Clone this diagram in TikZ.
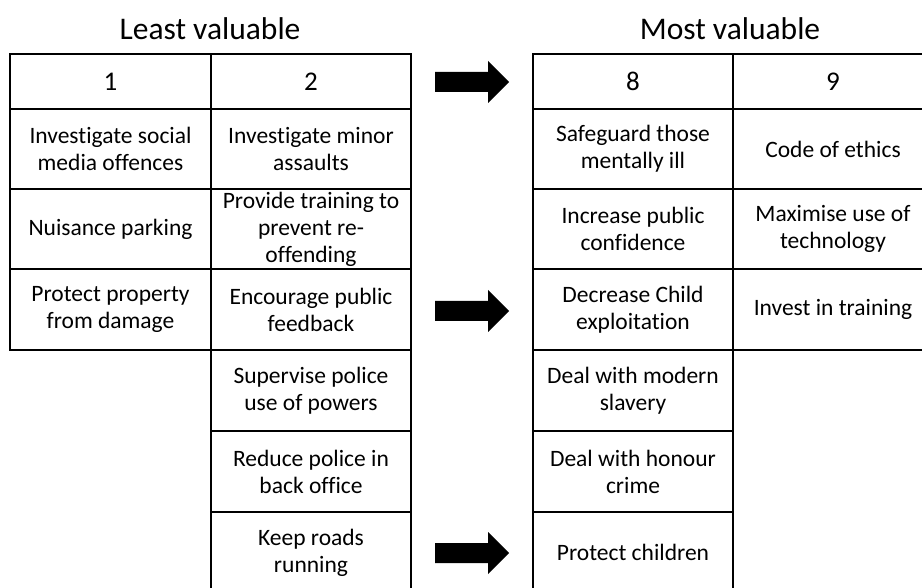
\documentclass[tikz,border=0pt]{standalone}
\usepackage{fontspec}
\setmainfont{Carlito}[Ligatures={NoCommon}]
\begin{document}
\begin{tikzpicture}[x=1pt,y=-1pt,
  cell/.style={draw=black, line width=2pt, minimum width=200.5pt,
    minimum height=80.5pt, inner sep=0pt, align=flush center, text width=198pt,
    font=\fontsize{23.5}{27}\selectfont},
  headcell/.style={cell, minimum height=55pt, font=\fontsize{27}{32}\selectfont},
  title/.style={font=\fontsize{31.5}{36}\selectfont, inner sep=0pt},
  bigarrow/.style={fill=black, draw=none}]
\useasboundingbox (0,0) rectangle (922,588);
\clip (0,0) rectangle (922,588);

% column titles
\node[title] (least) at (210,29) {Least valuable};
\node[title] (most) at (730,29) {Most valuable};

% least valuable: column 1
\node[headcell] (h1) at (110.5,81.5) {1};
\node[cell] (a1) at (110.5,149) {Investigate social\\media offences};
\node[cell] (a2) at (110.5,229) {Nuisance parking};
\node[cell] (a3) at (110.5,309.5) {Protect property\\from damage};

% least valuable: column 2
\node[headcell] (h2) at (311,81.5) {2};
\node[cell] (b1) at (311,149) {Investigate minor\\assaults};
\node[cell] (b2) at (311,229) {Provide training to\\prevent re-\\offending};
\node[cell] (b3) at (311,309.5) {Encourage public\\feedback};
\node[cell] (b4) at (311,390.5) {Supervise police\\use of powers};
\node[cell] (b5) at (311,471.5) {Reduce police in\\back office};
\node[cell] (b6) at (311,552.5) {Keep roads\\running};

% most valuable: column 8
\node[headcell] (h8) at (633,81.5) {8};
\node[cell] (c1) at (633,149) {Safeguard those\\mentally ill};
\node[cell] (c2) at (633,229) {Increase public\\confidence};
\node[cell] (c3) at (633,309.5) {Decrease Child\\exploitation};
\node[cell] (c4) at (633,390.5) {Deal with modern\\slavery};
\node[cell] (c5) at (633,471.5) {Deal with honour\\crime};
\node[cell] (c6) at (633,552.5) {Protect children};

% most valuable: column 9
\node[headcell] (h9) at (833,81.5) {9};
\node[cell] (d1) at (833,149) {Code of ethics};
\node[cell] (d2) at (833,229) {Maximise use of\\technology};
\node[cell] (d3) at (833,309.5) {Invest in training};

% block arrows between the tables: tail points, then the outline
\coordinate (arrA) at (435,82);
\coordinate (arrB) at (435,311);
\coordinate (arrC) at (435,553);
\foreach \a in {arrA,arrB,arrC}
  \fill[bigarrow] (\a) ++(0,-10) -- ++(53,0) -- ++(0,-11) -- ++(21,21)
    -- ++(-21,21) -- ++(0,-11) -- ++(-53,0) -- cycle;
\end{tikzpicture}
\end{document}
